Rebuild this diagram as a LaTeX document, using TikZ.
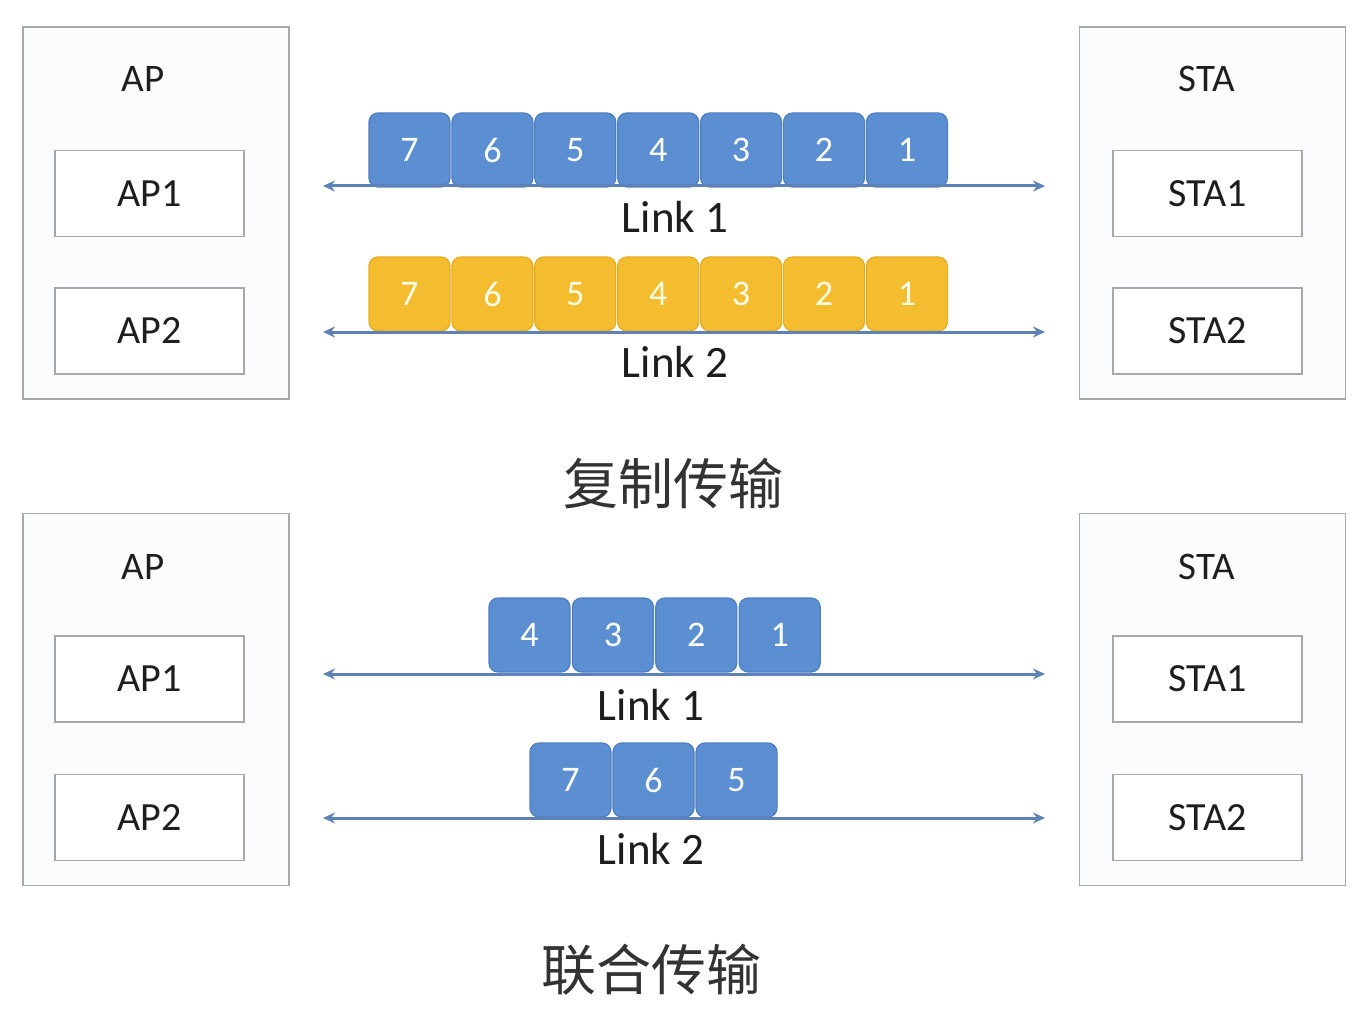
\documentclass[tikz,border=0pt]{standalone}
\usepackage{fontspec}
\setmainfont{Carlito}
\newfontfamily\cjk{Noto Sans CJK SC}
\usetikzlibrary{arrows.meta}
\definecolor{boxline}{HTML}{A6A8AB}
\definecolor{boxfill}{HTML}{FBFCFE}
\definecolor{pblue}{HTML}{5B8FD2}
\definecolor{pblueline}{HTML}{4F7FC0}
\definecolor{pgold}{HTML}{F4BD2F}
\definecolor{pgoldline}{HTML}{E3AC22}
\definecolor{linkc}{HTML}{5C82B8}
\definecolor{txt}{HTML}{1E1E1E}
\tikzset{
  outerbox/.style={draw=boxline, line width=1.5pt, fill=boxfill, minimum width=266pt, minimum height=372pt, inner sep=0pt},
  innerbox/.style={draw=boxline, line width=1.5pt, fill=white, minimum width=189pt, minimum height=86pt, inner sep=0pt, text=txt, font=\fontsize{40}{46}\selectfont},
  title/.style={font=\fontsize{39}{44}\selectfont, inner sep=0pt, text=txt},
  linklabel/.style={font=\fontsize{45}{50}\selectfont, inner sep=0pt, text=txt},
  link/.style={draw=linkc, line width=3pt, {Stealth[length=12pt,width=11pt]}-{Stealth[length=12pt,width=11pt]}},
  pkt/.style={rounded corners=9pt, minimum width=81pt, minimum height=74pt, inner sep=0pt, line width=1.2pt, text=white, font=\fontsize{36}{40}\selectfont},
  bluepkt/.style={pkt, fill=pblue, draw=pblueline},
  goldpkt/.style={pkt, fill=pgold, draw=pgoldline, text=white!90!yellow},
  cjktitle/.style={font=\cjk\fontsize{55}{60}\selectfont, inner sep=0pt, text=black!80}
}
\begin{document}
\begin{tikzpicture}[x=1pt,y=-1pt]
\useasboundingbox[fill=white] (0,0) rectangle (1368,1024);
% ---------- top section ----------
\node[outerbox] (apT) at (156,213) {};
\node[title] (apTl) at (143,79) {AP};
\node[innerbox] (ap1T) at (149.5,193.5) {AP1};
\node[innerbox] (ap2T) at (149.5,331) {AP2};
\node[outerbox] (staT) at (1212.5,213) {};
\node[title] (staTl) at (1207,79) {STA};
\node[innerbox] (sta1T) at (1207.5,193.5) {STA1};
\node[innerbox] (sta2T) at (1207.5,331) {STA2};

\coordinate (l1Ta) at (323,186);
\coordinate (l1Tb) at (1045,186);
\coordinate (l2Ta) at (323,332);
\coordinate (l2Tb) at (1045,332);

\foreach \n [count=\i from 0] in {7,6,5,4,3,2,1} {
  \node[bluepkt] (bT\n) at ({409.5+\i*82.9},150) {\n};
  \node[goldpkt] (gT\n) at ({409.5+\i*82.9},294) {\n};
}
\draw[link] (l1Ta) -- (l1Tb);
\draw[link] (l2Ta) -- (l2Tb);
\node[linklabel] (lab1T) at (675,217) {Link 1};
\node[linklabel] (lab2T) at (675,362) {Link 2};
\node[cjktitle] (titleT) at (673,484) {复制传输};

% ---------- bottom section ----------
\node[outerbox] (apB) at (156,699.5) {};
\node[title] (apBl) at (143,567) {AP};
\node[innerbox] (ap1B) at (149.5,679) {AP1};
\node[innerbox] (ap2B) at (149.5,817.5) {AP2};
\node[outerbox] (staB) at (1212.5,699.5) {};
\node[title] (staBl) at (1207,567) {STA};
\node[innerbox] (sta1B) at (1207.5,679) {STA1};
\node[innerbox] (sta2B) at (1207.5,817.5) {STA2};

\coordinate (l1Ba) at (323,674);
\coordinate (l1Bb) at (1045,674);
\coordinate (l2Ba) at (323,818);
\coordinate (l2Bb) at (1045,818);

\foreach \n [count=\i from 0] in {4,3,2,1} {
  \node[bluepkt] (bB\n) at ({529.5+\i*83.4},635) {\n};
}
\foreach \n [count=\i from 0] in {7,6,5} {
  \node[bluepkt] (cB\n) at ({570.5+\i*83},780) {\n};
}
\draw[link] (l1Ba) -- (l1Bb);
\draw[link] (l2Ba) -- (l2Bb);
\node[linklabel] (lab1B) at (651,705) {Link 1};
\node[linklabel] (lab2B) at (651,849) {Link 2};
\node[cjktitle] (titleB) at (651,970) {联合传输};
\end{tikzpicture}
\end{document}
